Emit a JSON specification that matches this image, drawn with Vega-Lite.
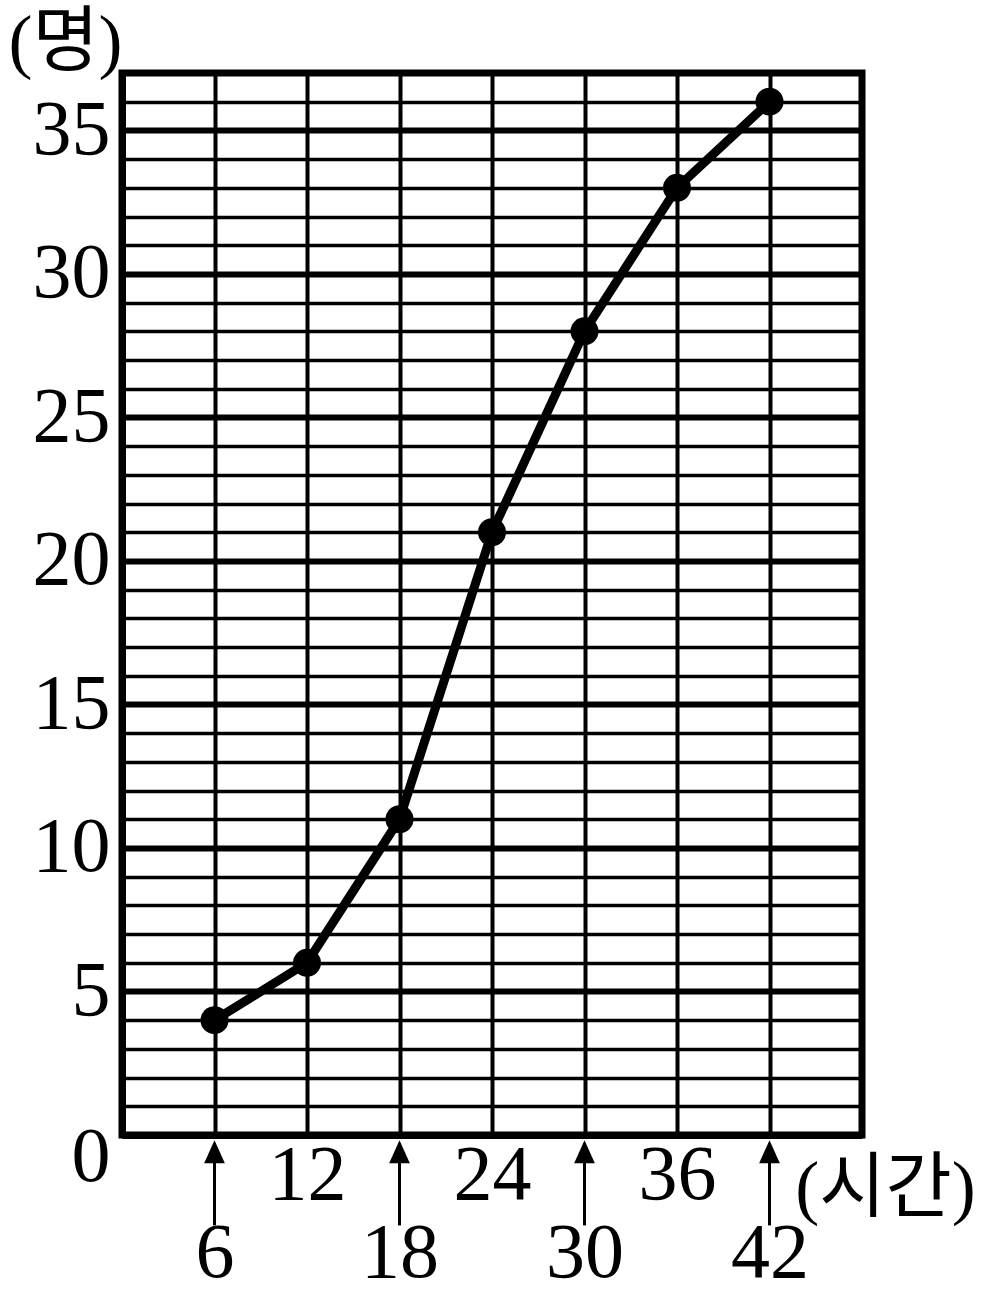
{
  "$schema": "https://vega.github.io/schema/vega-lite/v6.json",
  "width": 740,
  "height": 1062,
  "autosize": {"type": "none"},
  "padding": {"left": 122, "top": 73, "right": 124, "bottom": 168},
  "background": "white",
  "config": {
    "view": {"stroke": "black", "strokeWidth": 7}
  },
  "datasets": {
    "counts": [
      {"hours": 6, "count": 4},
      {"hours": 12, "count": 6},
      {"hours": 18, "count": 11},
      {"hours": 24, "count": 21},
      {"hours": 30, "count": 28},
      {"hours": 36, "count": 33},
      {"hours": 42, "count": 36}
    ],
    "arrows": [
      {"hours": 6},
      {"hours": 18},
      {"hours": 30},
      {"hours": 42}
    ]
  },
  "layer": [
    {
      "data": {"name": "counts"},
      "mark": {"type": "line", "color": "black", "strokeWidth": 9},
      "encoding": {
        "x": {
          "field": "hours",
          "type": "quantitative",
          "scale": {"domain": [0, 48], "nice": false, "zero": false},
          "axis": {
            "values": [6, 12, 18, 24, 30, 36, 42],
            "format": "d",
            "grid": true,
            "gridColor": "black",
            "gridWidth": 4,
            "gridOpacity": 1,
            "ticks": false,
            "domain": true,
            "domainColor": "black",
            "domainWidth": 7,
            "labelFont": "Liberation Serif",
            "labelFontSize": 78,
            "labelColor": "black",
            "labelBaseline": "middle",
            "labelPadding": {"condition": {"test": "datum.value % 12 == 0", "value": 40}, "value": 118},
            "labelFlush": false,
            "labelOverlap": false,
            "title": "(시간)",
            "titleFont": "Liberation Serif, Noto Sans CJK KR",
            "titleFontSize": 72,
            "titleFontWeight": "normal",
            "titleColor": "black",
            "titleX": 763,
            "titleY": 53,
            "titleAlign": "center",
            "titleBaseline": "middle"
          }
        },
        "y": {
          "field": "count",
          "type": "quantitative",
          "scale": {"domain": [0, 37], "nice": false, "zero": false},
          "axis": {
            "values": [0, 1, 2, 3, 4, 5, 6, 7, 8, 9, 10, 11, 12, 13, 14, 15, 16, 17, 18, 19, 20, 21, 22, 23, 24, 25, 26, 27, 28, 29, 30, 31, 32, 33, 34, 35, 36, 37],
            "tickCount": 60,
            "format": "d",
            "grid": true,
            "gridColor": "black",
            "gridOpacity": 1,
            "gridWidth": {"condition": {"test": "datum.value % 5 == 0", "value": 6}, "value": 3.5},
            "ticks": false,
            "domain": true,
            "domainColor": "black",
            "domainWidth": 7,
            "labelExpr": "datum.value % 5 == 0 ? datum.label : ''",
            "labelFont": "Liberation Serif",
            "labelFontSize": 78,
            "labelColor": "black",
            "labelPadding": 12,
            "labelOffset": {"condition": {"test": "datum.value == 0", "value": 22}, "value": 0},
            "labelOverlap": false,
            "labelFlush": false,
            "title": "(명)",
            "titleFont": "Liberation Serif, Noto Sans CJK KR",
            "titleFontSize": 72,
            "titleFontWeight": "normal",
            "titleColor": "black",
            "titleAngle": 0,
            "titleX": -57,
            "titleY": -31,
            "titleAlign": "center",
            "titleBaseline": "middle"
          }
        }
      }
    },
    {
      "data": {"name": "counts"},
      "mark": {"type": "point", "filled": true, "color": "black", "opacity": 1, "size": 784},
      "encoding": {
        "x": {"field": "hours", "type": "quantitative"},
        "y": {"field": "count", "type": "quantitative"}
      }
    },
    {
      "data": {"name": "arrows"},
      "mark": {"type": "rule", "color": "black", "strokeWidth": 3},
      "encoding": {
        "x": {"field": "hours", "type": "quantitative"},
        "y": {"datum": -0.3},
        "y2": {"datum": -3.15}
      }
    },
    {
      "data": {"name": "arrows"},
      "mark": {"type": "point", "shape": "M0,-1L-0.9,1L0.9,1Z", "filled": true, "color": "black", "opacity": 1, "size": 529},
      "encoding": {
        "x": {"field": "hours", "type": "quantitative"},
        "y": {"datum": -0.58}
      }
    }
  ]
}
